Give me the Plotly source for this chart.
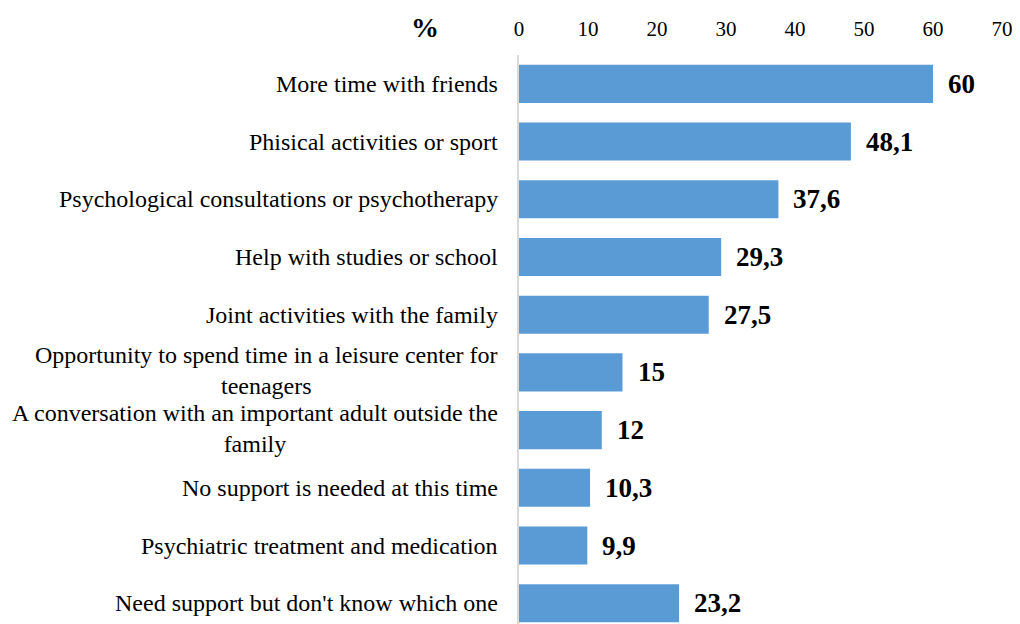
import plotly.graph_objects as go

categories = [
    "More time with friends",
    "Phisical activities or sport",
    "Psychological consultations or psychotherapy",
    "Help with studies or school",
    "Joint activities with the family",
    "Opportunity to spend time in a leisure center for<br>teenagers",
    "A conversation with an important adult outside the<br>family",
    "No support is needed at this time",
    "Psychiatric treatment and medication",
    "Need support but don't know which one",
]
values = [60, 48.1, 37.6, 29.3, 27.5, 15, 12, 10.3, 9.9, 23.2]
x_ticks = [0, 10, 20, 30, 40, 50, 60, 70]

FONT = "Liberation Serif, Times New Roman, serif"
positions = list(range(len(categories)))


def fmt(v):
    return f"{v:g}".replace(".", ",")


fig = go.Figure(
    go.Bar(
        x=values,
        y=positions,
        orientation="h",
        marker=dict(color="#5B9BD5", line=dict(width=0)),
        width=0.66,
        hoverinfo="skip",
    )
)

annotations = []
# category labels: right-aligned next to the axis, wrapped lines centred
for i, cat in enumerate(categories):
    multi = "<br>" in cat
    annotations.append(dict(
        x=0, xref="paper", y=i, yref="y",
        text=cat, showarrow=False, xanchor="right", yanchor="middle",
        align="center", xshift=-19, yshift=2 if multi else 0,
        font=dict(family=FONT, size=24, color="#000000"),
    ))

# value labels next to each bar
for i, v in enumerate(values):
    annotations.append(dict(
        x=v, xref="x", y=i, yref="y",
        text=f"<b>{fmt(v)}</b>", showarrow=False, xanchor="left", yanchor="middle",
        xshift=13, yshift=0,
        font=dict(family=FONT, size=27, color="#000000"),
    ))

# unit label above the category column
annotations.append(dict(
    x=-0.195, xref="paper", y=1, yref="paper", yshift=28,
    text="<b>%</b>", showarrow=False, xanchor="center", yanchor="middle",
    font=dict(family=FONT, size=28, color="#000000"),
))

fig.update_layout(
    width=1020, height=624,
    margin=dict(l=519, r=18, t=55, b=0),
    paper_bgcolor="white", plot_bgcolor="white",
    showlegend=False,
    annotations=annotations,
    xaxis=dict(
        side="top", range=[0, 70], tickvals=x_ticks,
        showgrid=False, zeroline=False, showline=False, ticks="",
        tickfont=dict(family=FONT, size=21, color="#000000"),
        ticklabelstandoff=14,
        fixedrange=True,
    ),
    yaxis=dict(
        range=[9.36, -0.5], tickvals=positions, showticklabels=False,
        showgrid=False, zeroline=False, showline=True,
        linecolor="#d9d9d9", linewidth=1.5, ticks="",
        fixedrange=True,
    ),
)

fig.write_html("out.html")
